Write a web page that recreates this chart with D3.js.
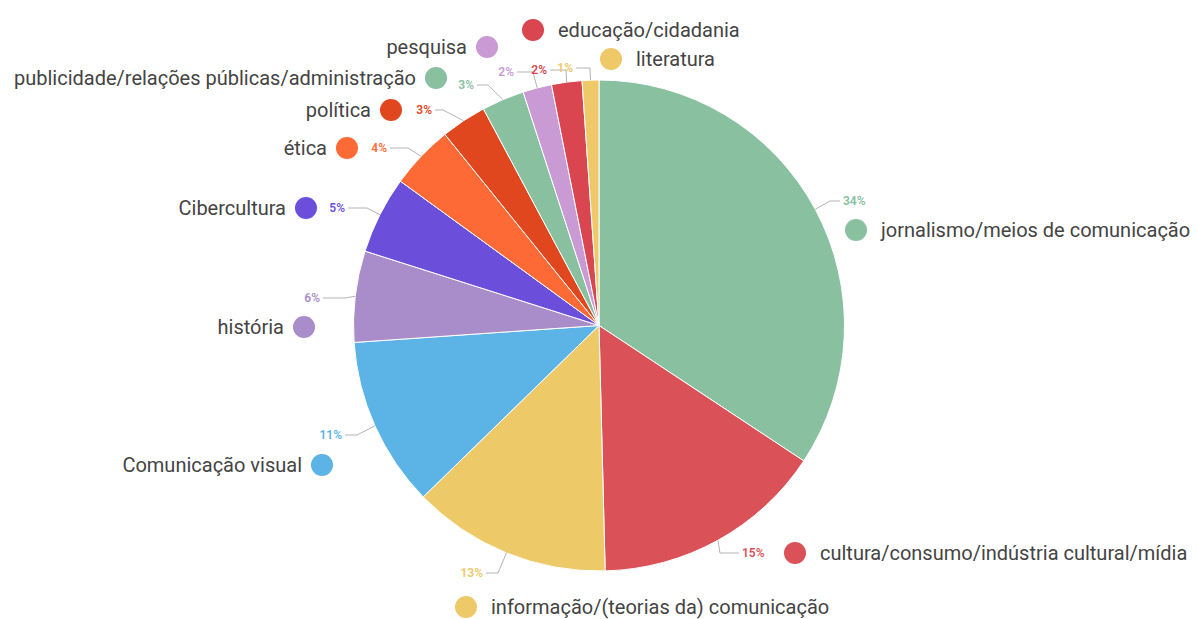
<!DOCTYPE html>
<html>
<head>
<meta charset="utf-8">
<script src="https://cdn.jsdelivr.net/npm/d3@7"></script>
<style>
  html, body { margin: 0; padding: 0; background: #ffffff; }
  svg { display: block; font-family: Roboto, "Noto Sans", sans-serif; }
</style>
</head>
<body>
<svg id="chart" width="1197" height="619"></svg>
<script>
// Temas dos artigos (fatia, em ordem horária a partir do topo)
const categories = [
  "jornalismo/meios de comunicação",
  "cultura/consumo/indústria cultural/mídia",
  "informação/(teorias da) comunicação",
  "Comunicação visual",
  "história",
  "Cibercultura",
  "ética",
  "política",
  "publicidade/relações públicas/administração",
  "pesquisa",
  "educação/cidadania",
  "literatura"
];
const values = [34.3, 15.3, 13.1, 11.2, 6.0, 5.1, 4.2, 3.0, 2.8, 1.9, 2.0, 1.1];
const colors = [
  "#88c0a0", "#da5157", "#edc967", "#5bb4e5", "#a98dcb", "#6b4fdb",
  "#fe6a35", "#e1471f", "#88c0a0", "#c99ad3", "#d9464f", "#efc968"
];

// Posição dos rótulos: percentual (px, py, âncora), cotovelo da linha guia (ex),
// marcador da legenda (cx, cy) e lado do texto da categoria.
const labelLayout = [
  { px: 843, py: 201, pa: "start", ex: 830, cx: 856, cy: 230, side: "right" },
  { px: 742, py: 553, pa: "start", ex: 720, cx: 795, cy: 553, side: "right" },
  { px: 483, py: 573, pa: "end",   ex: 498, cx: 466, cy: 607, side: "right" },
  { px: 342, py: 435, pa: "end",   ex: 357, cx: 322, cy: 465, side: "left" },
  { px: 320, py: 298, pa: "end",   ex: 345, cx: 304, cy: 327, side: "left" },
  { px: 345, py: 208, pa: "end",   ex: 367, cx: 306, cy: 208, side: "left" },
  { px: 387, py: 148, pa: "end",   ex: 408, cx: 347, cy: 148, side: "left" },
  { px: 432, py: 110, pa: "end",   ex: 443, cx: 391, cy: 110, side: "left" },
  { px: 474, py: 85,  pa: "end",   ex: 488, cx: 436, cy: 78,  side: "left" },
  { px: 514, py: 72,  pa: "end",   ex: 533, cx: 487, cy: 47,  side: "left" },
  { px: 547, py: 70,  pa: "end",   ex: 566, cx: 533, cy: 30,  side: "right" },
  { px: 573, py: 68,  pa: "end",   ex: 590, cx: 611, cy: 59,  side: "right" }
];

const cx0 = 599, cy0 = 325.5, radius = 245.5;
const total = d3.sum(values);

const svg = d3.select("#chart");
const g = svg.append("g").attr("transform", `translate(${cx0},${cy0})`);

const pie = d3.pie().sort(null).value(d => d.value);
const arc = d3.arc().innerRadius(0).outerRadius(radius);
const edgeArc = d3.arc().innerRadius(radius).outerRadius(radius);

const data = categories.map((c, i) => ({ name: c, value: values[i], color: colors[i], lay: labelLayout[i] }));
const arcs = pie(data);

// Fatias
g.selectAll("path.slice")
  .data(arcs)
  .enter().append("path")
  .attr("class", "slice")
  .attr("d", arc)
  .attr("fill", d => d.data.color)
  .attr("stroke", "#ffffff")
  .attr("stroke-width", 1);

// Linhas guia: da borda da fatia até o cotovelo e depois ao percentual
const labels = svg.append("g");
arcs.forEach(a => {
  const L = a.data.lay;
  const [ex0, ey0] = edgeArc.centroid(a);
  const sx = cx0 + ex0, sy = cy0 + ey0;
  const pad = 3;
  const endX = L.pa === "start" ? L.px - pad : L.px + pad;
  labels.append("path")
    .attr("d", d3.line()([[sx, sy], [L.ex, L.py], [endX, L.py]]))
    .attr("fill", "none")
    .attr("stroke", "#b4b4b4")
    .attr("stroke-width", 1);
});

// Percentuais
arcs.forEach(a => {
  const L = a.data.lay;
  labels.append("text")
    .attr("x", L.px)
    .attr("y", L.py)
    .attr("text-anchor", L.pa)
    .attr("dominant-baseline", "central")
    .attr("font-size", 12)
    .attr("font-weight", 600)
    .attr("fill", a.data.color)
    .text(Math.round(a.data.value / total * 100) + "%");
});

// Legenda: marcador circular e nome da categoria
arcs.forEach(a => {
  const L = a.data.lay;
  labels.append("circle")
    .attr("cx", L.cx)
    .attr("cy", L.cy)
    .attr("r", 11)
    .attr("fill", a.data.color);
  labels.append("text")
    .attr("x", L.side === "right" ? L.cx + 25 : L.cx - 20)
    .attr("y", L.cy)
    .attr("text-anchor", L.side === "right" ? "start" : "end")
    .attr("dominant-baseline", "central")
    .attr("font-size", 20)
    .attr("fill", "#444444")
    .text(a.data.name);
});
</script>
</body>
</html>
